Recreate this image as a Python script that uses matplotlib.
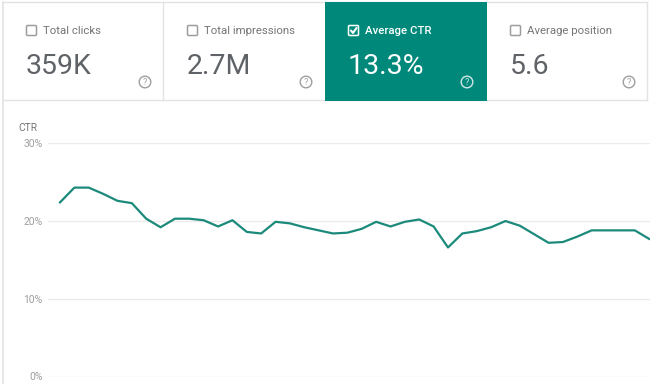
import matplotlib
matplotlib.use('Agg')
import matplotlib.pyplot as plt
from matplotlib.patches import Rectangle, FancyBboxPatch, Circle
import numpy as np

plt.rcParams['font.family'] = ['Roboto', 'DejaVu Sans']

# --- data ---
card_labels = ['Total clicks', 'Total impressions', 'Average CTR', 'Average position']
card_values = ['359K', '2.7M', '13.3%', '5.6']
card_checked = [False, False, True, False]

ctr = [22.4, 24.3, 24.3, 23.5, 22.6, 22.3, 20.3, 19.2, 20.3, 20.3,
       20.1, 19.3, 20.1, 18.6, 18.4, 19.9, 19.7, 19.2, 18.8, 18.4,
       18.5, 19.0, 19.9, 19.3, 19.9, 20.2, 19.3, 16.6, 18.4, 18.7,
       19.2, 20.0, 19.4, 18.3, 17.2, 17.3, 18.0, 18.8, 18.8, 18.8,
       18.8, 17.7]
y_ticks = [0, 10, 20, 30]
y_ticklabels = ['0%', '10%', '20%', '30%']

TEAL = '#00897b'
LINE = '#1b8a7b'
GRID = '#ebebeb'
BORDER = '#e3e3e3'
GREY_TXT = '#757575'
NUM_TXT = '#5f6368'

W, H = 650, 384
fig = plt.figure(figsize=(W / 100, H / 100), dpi=100)
fig.patch.set_facecolor('white')

# background layer in pixel coordinates (origin top-left)
bg = fig.add_axes([0, 0, 1, 1])
bg.set_xlim(0, W)
bg.set_ylim(H, 0)
bg.axis('off')

# outer frame
bg.plot([3, 3], [2, H], color=BORDER, lw=1.2)
bg.plot([3, 647], [2, 2], color=BORDER, lw=1)
bg.plot([647, 647], [2, 100], color=BORDER, lw=1)
bg.plot([3, 647], [100, 100], color=BORDER, lw=1)
bg.plot([163, 163], [2, 100], color=BORDER, lw=1)

card_x = [3, 164, 325, 487]
card_w = [160, 161, 162, 160]
for i in range(4):
    x0 = card_x[i]
    if card_checked[i]:
        bg.add_patch(Rectangle((x0, 2), card_w[i], 99, facecolor=TEAL,
                               edgecolor='none', zorder=2))
        txt_col, num_col, box_col = 'white', 'white', 'white'
        weight = 'medium'
    else:
        txt_col, num_col, box_col = GREY_TXT, NUM_TXT, '#9e9e9e'
        weight = 'normal'
    # checkbox
    bg.add_patch(FancyBboxPatch((x0 + 23.5, 25.5), 10, 10,
                                boxstyle='round,pad=0,rounding_size=1.2',
                                facecolor='none', edgecolor=box_col, lw=1.1, zorder=3))
    if card_checked[i]:
        bg.plot([x0 + 26, x0 + 28, x0 + 31.5], [30.5, 33, 28],
                color='white', lw=1.5, zorder=4, solid_capstyle='round')
    bg.text(x0 + 40, 31, card_labels[i], fontsize=8.2, color=txt_col,
            fontweight=weight, va='center', ha='left', zorder=4)
    bg.text(x0 + 23, 74, card_values[i], fontsize=20.5, color=num_col,
            fontweight='normal', va='baseline', ha='left', zorder=4)
    # help icon
    icol = '#9e9e9e' if not card_checked[i] else '#cfe9e5'
    bg.add_patch(Circle((x0 + 142, 82), 5.8, facecolor='none',
                        edgecolor=icol, lw=1, zorder=4))
    bg.text(x0 + 142, 82.5, '?', fontsize=6.5, color=icol,
            ha='center', va='center', zorder=5)

# --- chart ---
ax_left, ax_right = 48, 650
y0_px, y30_px = 376.5, 143.3
ax = fig.add_axes([ax_left / W, (H - y0_px) / H,
                   (ax_right - ax_left) / W, (y0_px - y30_px) / H])
ax.set_facecolor('none')
x = np.arange(len(ctr))
step = 14.37
ax.set_xlim(-(60 - ax_left) / step, (ax_right - 60) / step)
ax.set_ylim(0, 30)
ax.plot(x, ctr, color=LINE, lw=1.6, zorder=3)
ax.set_yticks(y_ticks)
ax.set_yticklabels(y_ticklabels, fontsize=7.4, color='#9e9e9e')
ax.tick_params(axis='y', length=0, pad=4)
ax.set_xticks([])
for t in y_ticks:
    ax.axhline(t, color=GRID, lw=1, zorder=1)
for s in ax.spines.values():
    s.set_visible(False)

fig.text(18 / W, (H - 128) / H, 'CTR', fontsize=7.4, color=GREY_TXT,
         ha='left', va='center')

fig.savefig('out.png', dpi=100, facecolor='white')
plt.close(fig)
